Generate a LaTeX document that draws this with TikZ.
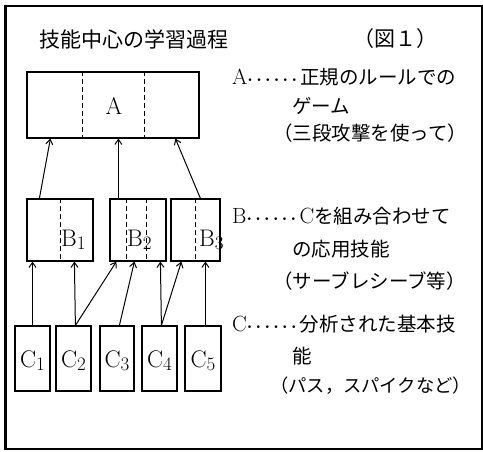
\documentclass[tikz,border=0pt]{standalone}
\usepackage{fontspec}
\newfontfamily\jp{Noto Sans CJK JP}
\usetikzlibrary{arrows.meta,calc}
\newcommand{\subd}[1]{\raisebox{-3pt}{\fontsize{19}{19}\selectfont #1}}
\newcommand{\lat}[1]{{\rmfamily\fontsize{22}{22}\selectfont #1}}
\newcommand{\dotsx}{{\rmfamily\fontsize{17}{17}\selectfont$\boldsymbol{\cdots\cdots}$}}
\usepackage{amsmath}
\begin{document}
\begin{tikzpicture}[x=1pt,y=-1pt,
  box/.style={draw,line width=1.2pt,inner sep=0pt,minimum height=#1},
  dsh/.style={line width=0.9pt,dash pattern=on 5pt off 3pt},
  arr/.style={line width=1pt,-{Straight Barb[length=5pt,width=7pt,line width=1pt]}},
  jt/.style={anchor=west,inner sep=0pt,font=\jp\fontsize{19.5}{19.5}\selectfont},
  lbl/.style={inner sep=0pt,font=\fontsize{24}{24}\selectfont}]
\useasboundingbox (0,0) rectangle (483,451);
\draw[line width=1.6pt] (5,6) rectangle (482,449);
\draw[line width=3pt] (5,6) -- (5,449);
% title
\node[jt,font=\jp\fontsize{21}{21}\selectfont] (title) at (39,39) {技能中心の学習過程};
\node[jt,font=\jp\fontsize{21}{21}\selectfont] (fig) at (353,39) {（図１）};
% boxes
\node[box=66pt,minimum width=172pt] (A) at (113,105) {};
\node[box=62pt,minimum width=66pt] (B1) at (60,230) {};
\node[box=62pt,minimum width=56pt] (B2) at (138,230) {};
\node[box=62pt,minimum width=49pt] (B3) at (195.5,230) {};
\node[box=65pt,minimum width=35pt] (C1) at (32.5,358.5) {};
\node[box=65pt,minimum width=35pt] (C2) at (73.5,358.5) {};
\node[box=65pt,minimum width=34pt] (C3) at (117,358.5) {};
\node[box=65pt,minimum width=35pt] (C4) at (159.5,358.5) {};
\node[box=65pt,minimum width=36pt] (C5) at (203,358.5) {};
% dashed dividers
\draw[dsh] ($(A.north west)+(56,0)$) -- ($(A.south west)+(56,0)$);
\draw[dsh] ($(A.north west)+(118,0)$) -- ($(A.south west)+(118,0)$);
\draw[dsh] ($(B1.north west)+(34,0)$) -- ($(B1.south west)+(34,0)$);
\draw[dsh] ($(B2.north west)+(17,0)$) -- ($(B2.south west)+(17,0)$);
\draw[dsh] ($(B2.north west)+(37,0)$) -- ($(B2.south west)+(37,0)$);
\draw[dsh] ($(B3.north west)+(25,0)$) -- ($(B3.south west)+(25,0)$);
% labels in boxes
\node[lbl] (lA) at (114,106) {A};
\node[lbl,anchor=west] (lB1) at (61,240) {B\subd{1}};
\node[lbl,anchor=west] (lB2) at (127,240) {B\subd{2}};
\node[lbl,anchor=west] (lB3) at (199,240) {B\subd{3}};
\foreach \i in {1,...,5}{
  \node[lbl] (lC\i) at ($(C\i.center)+(0,2)$) {C\subd{\i}};
}
% arrows into A
\draw[arr] ($(B1.north west)+(13,0)$) -- ($(A.south west)+(24,0)$);
\draw[arr] ($(B2.north west)+(9,0)$) -- ($(A.south west)+(92,0)$);
\draw[arr] ($(B3.north west)+(30,0)$) -- ($(A.south west)+(149,0)$);
% arrows into B
\draw[arr] (C1.north) -- (C1.north |- B1.south);
\draw[arr] ($(C2.north west)+(20,0)$) -- ($(B1.south west)+(48,0)$);
\draw[arr] ($(C2.north west)+(20,0)$) -- ($(B2.south west)+(7,0)$);
\draw[arr] ($(C3.north west)+(20,0)$) -- ($(B2.south west)+(25,0)$);
\draw[arr] ($(C4.north west)+(20,0)$) -- ($(B2.south west)+(51,0)$);
\draw[arr] ($(C4.north west)+(20,0)$) -- ($(B3.south west)+(11,0)$);
\draw[arr] ($(C5.north west)+(21,0)$) -- ($(B3.south west)+(35,0)$);
% descriptions
\node[jt] (a1) at (232,77) {\lat{A}\dotsx 正規のルールでの};
\node[jt] (a2) at (292,106) {ゲーム};
\node[jt] (a3) at (273,133) {（三段攻撃を使って）};
\node[jt] (b1) at (232,216) {\lat{B}\dotsx\lat{C}を組み合わせて};
\node[jt] (b2) at (292,249) {の応用技能};
\node[jt] (b3) at (273,281) {（サーブレシーブ等）};
\node[jt] (c1) at (232,324) {\lat{C}\dotsx 分析された基本技};
\node[jt] (c2) at (292,356) {能};
\node[jt,font=\jp\fontsize{18.3}{18.3}\selectfont] (c3) at (270,386) {（パス，スパイクなど）};
\end{tikzpicture}
\end{document}
